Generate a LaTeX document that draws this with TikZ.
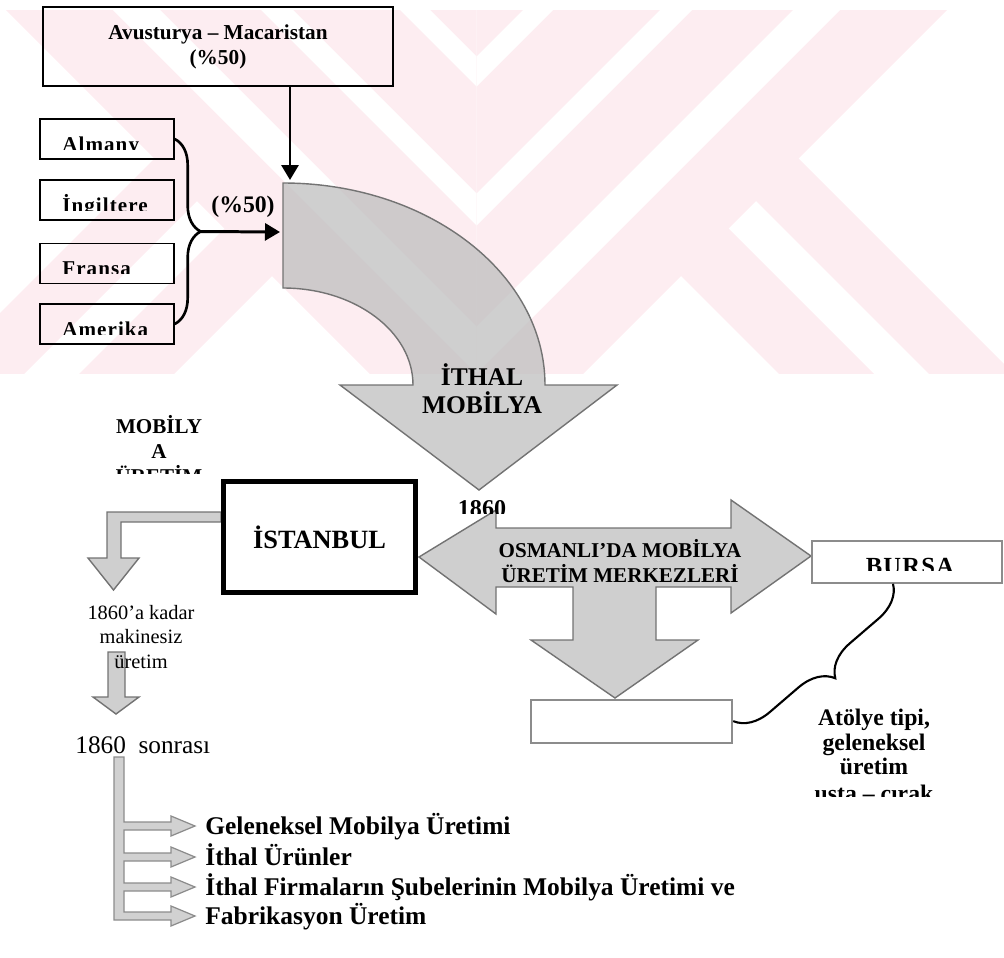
\documentclass[tikz,border=0pt]{standalone}
\usepackage{fontspec}
\setmainfont{Liberation Serif}
\newfontfamily\spacedserif[LetterSpace=5]{Liberation Serif}
\usetikzlibrary{positioning, arrows.meta, decorations.pathreplacing, calc}
\definecolor{wmpink}{RGB}{253,237,241}

% one half of the background logo (mirrored for the other half)
\newcommand{\wmhalf}{%
  \begin{scope}
    \clip (476.5,0) rectangle (1010,380);
    \fill[wmpink] (476.5,0) -- (957,0) -- (577,380) -- (476.5,380) -- cycle;
    \fill[wmpink] (652.5,247.5) -- (785,380) -- (880,380) -- (700,200) -- cycle;
    \fill[wmpink] (727.5,172.5) -- (935,380) -- (1020,380) -- (770,130) -- cycle;
    \fill[white] (533,0) -- (563,0) -- (183,380) -- (153,380) -- cycle;
    \fill[white] (670,0) -- (702,0) -- (322,380) -- (290,380) -- cycle;
    \fill[white] (803,0) -- (850,0) -- (470,380) -- (423,380) -- cycle;
  \end{scope}}

\begin{document}
\begin{tikzpicture}[x=0.02cm, y=-0.02cm,
        every node/.style={inner sep=0pt},
        srcbox/.style={draw, line width=0.8pt},
        ctrybox/.style={draw, line width=0.8pt, minimum width=2.68cm, minimum height=0.8cm},
        ctrylbl/.style={anchor=base west, font=\spacedserif\bfseries\fontsize{12}{14}\selectfont},
        grayframe/.style={draw=black!45, line width=0.9pt},
        blockarrow/.style={fill=black!25, fill opacity=0.75, draw=black!55, line width=0.8pt},
        treearrow/.style={fill=black!18, draw=black!45, line width=0.7pt},
        fatarrow/.style={line width=1.7pt, -{Triangle[length=0.3cm, width=0.34cm]}},
        bracket/.style={decorate, decoration={brace, amplitude=0.52cm}, line width=1.5pt},
        bigbrace/.style={decorate, decoration={brace, amplitude=0.68cm}, line width=1.2pt},
        bold/.style={font=\bfseries\fontsize{#1}{#1}\selectfont},
        plain/.style={font=\fontsize{#1}{#1}\selectfont}
    ]
    \useasboundingbox (0,0) rectangle (1004,957);

    % background logo
    \begin{scope}
        \clip (0,10) rectangle (1004,373);
        \wmhalf
        \begin{scope}[shift={(953,0)}, xscale=-1]
            \wmhalf
        \end{scope}
    \end{scope}

    % curved import arrow
    \draw[blockarrow] (283,183) .. controls (427.7,183) and (545,273.4) .. (545,385)
        -- (617,385) -- (479,490) -- (340,385) -- (413,385)
        .. controls (413,331.4) and (354.8,288) .. (283,288) -- cycle;
    \coordinate (ithaltop) at (290,180);
    \coordinate (ithalin) at (280,232);

    % centres double arrow
    \draw[blockarrow] (419,557) -- (496,510) -- (496,528) -- (731,528) -- (731,500)
        -- (811,556) -- (731,613) -- (731,587) -- (656,587) -- (656,640) -- (698,640)
        -- (615,698) -- (531,640) -- (573,640) -- (573,587) -- (496,587) -- (496,614) -- cycle;

    % istanbul side arrows
    \draw[blockarrow] (221,512) -- (107,512) -- (107,558) -- (88,558) -- (113.5,590)
        -- (139,558) -- (121,558) -- (121,522) -- (221,522) -- cycle;
    \draw[blockarrow] (108,652) -- (125,652) -- (125,697) -- (139,697) -- (116,714)
        -- (93,697) -- (108,697) -- cycle;

    % after 1860 tree
    \draw[treearrow] (114,757) -- (124,757) -- (124,822) -- (171,822) -- (171,816) -- (195,826)
        -- (171,836) -- (171,830) -- (124,830)
        -- (124,853) -- (171,853) -- (171,847) -- (195,857) -- (171,867) -- (171,861) -- (124,861)
        -- (124,883) -- (171,883) -- (171,877) -- (195,887) -- (171,897) -- (171,891) -- (124,891)
        -- (124,912) -- (171,912) -- (171,906) -- (195,916) -- (171,926) -- (171,920) -- (114,920) -- cycle;

    % sources
    \node[srcbox, minimum width=7cm, minimum height=1.58cm, align=center,
          font=\bfseries\fontsize{12.1}{14.2}\selectfont] (aust) at (218,46.5)
        {Avusturya – Macaristan\\(\%50)};
    \node[ctrybox] (almany) at (107,139) {};
    \node[ctrybox] (ingiltere) at (107,200) {};
    \node[ctrybox] (fransa) at (107,263.5) {};
    \node[ctrybox] (amerika) at (107,324) {};
    \begin{scope}
        \clip (40,100) rectangle (174,149);
        \node[ctrylbl] (almanylbl) at (62,151) {Almany};
    \end{scope}
    \begin{scope}
        \clip (40,170) rectangle (174,210);
        \node[ctrylbl] (ingilterelbl) at (62,212) {İngiltere};
    \end{scope}
    \begin{scope}
        \clip (40,240) rectangle (174,273);
        \node[ctrylbl] (fransalbl) at (62,275) {Fransa};
    \end{scope}
    \begin{scope}
        \clip (40,300) rectangle (174,334);
        \node[ctrylbl] (amerikalbl) at (62,336) {Amerika};
    \end{scope}

    \draw[fatarrow] (aust.south -| ithaltop) -- (ithaltop);
    \draw[bracket] (almany.east) -- (amerika.east);
    \coordinate (brmid) at ($(almany.east)!0.5!(amerika.east)$);
    \draw[fatarrow] ([xshift=0.52cm]brmid) -- (ithalin);
    \node[bold=13.5] (share) at (243,207) {(\%50)};

    \node[align=center, font=\bfseries\fontsize{14.5}{16}\selectfont] (ithal) at (482,389)
        {İTHAL\\MOBİLYA};

    % production centres
    \begin{scope}
        \clip (100,400) rectangle (220,473);
        \node[align=center, font=\bfseries\fontsize{12}{14.2}\selectfont] (uretim) at (159,450)
            {MOBİLY\\A\\ÜRETİM};
    \end{scope}
    \node[draw, line width=2.85pt, minimum width=3.84cm, minimum height=2.22cm,
          font=\bfseries\fontsize{15}{18}\selectfont] (istanbul) at (319.5,537) {İSTANBUL};
    \begin{scope}
        \clip (440,480) rectangle (530,513);
        \node[bold=13.7, anchor=base] (yil) at (482,516) {1860};
    \end{scope}
    \node[align=center, font=\bfseries\fontsize{12}{14.2}\selectfont] (merkez) at (620,561)
        {OSMANLI’DA MOBİLYA\\ÜRETİM MERKEZLERİ};
    \node[grayframe, minimum width=3.8cm, minimum height=0.84cm] (bursa) at (907,562) {};
    \begin{scope}
        \clip (812,541) rectangle (1002,570);
        \node[anchor=base, font=\spacedserif\bfseries\fontsize{14}{14}\selectfont] (bursalbl)
            at (910,574) {BURSA};
    \end{scope}
    \node[grayframe, minimum width=4.02cm, minimum height=0.86cm] (bos) at (631.5,721.5) {};
    \draw[bigbrace] ([xshift=-0.28cm]bursa.south) -- (bos.east);
    \node[align=center, font=\bfseries\fontsize{13.5}{14}\selectfont] (atolye) at (874,742)
        {Atölye tipi,\\geleneksel\\üretim};
    \begin{scope}
        \clip (780,770) rectangle (980,796);
        \node[bold=13.5, anchor=base] (usta) at (874,801) {usta – çırak};
    \end{scope}

    % istanbul before / after 1860
    \node[align=center, font=\fontsize{11.6}{13.7}\selectfont] (once) at (141,637)
        {1860’a kadar\\makinesiz\\üretim};
    \node[plain=14.4, anchor=base west] (sonra) at (75,753.5) {1860\ \ sonrası};
    \node[bold=14.5, anchor=base west] (dal1) at (205,834.5) {Geleneksel Mobilya Üretimi};
    \node[bold=14.5, anchor=base west] (dal2) at (205,865.5) {İthal Ürünler};
    \node[bold=14.5, anchor=base west] (dal3) at (205,895.5) {İthal Firmaların Şubelerinin Mobilya Üretimi ve};
    \node[bold=14.5, anchor=base west] (dal4) at (205,924.5) {Fabrikasyon Üretim};

\end{tikzpicture}
\end{document}
